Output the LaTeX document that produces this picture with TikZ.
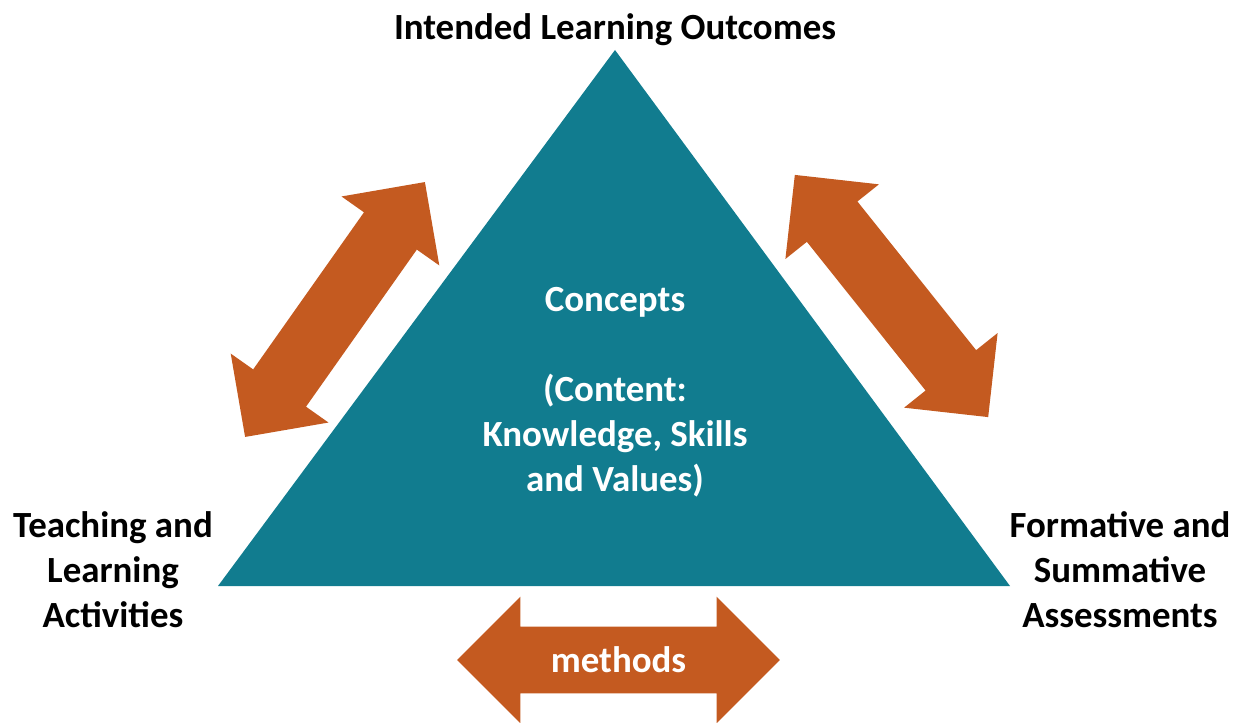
\documentclass[tikz,border=0pt]{standalone}
\usepackage{fontspec}
\setmainfont{Carlito}
\usetikzlibrary{shapes.arrows}

\definecolor{triteal}{RGB}{17,124,143}
\definecolor{arroworange}{RGB}{196,90,32}

\tikzset{
  bigarrow/.style={double arrow, fill=arroworange, draw=none, inner xsep=0pt,
    inner ysep=0.64cm, double arrow head extend=0.55cm},
}

\begin{document}
\begin{tikzpicture}[x=0.02cm, y=-0.02cm, font=\fontsize{21}{25.6}\selectfont\bfseries]
\useasboundingbox (0,0) rectangle (1244,723);

% the triangle
\coordinate (top) at (615,50);
\coordinate (bottomleft) at (218,586);
\coordinate (bottomright) at (1010,586);
\fill[triteal] (top) -- (bottomright) -- (bottomleft) -- cycle;

\node (ilo) at (615,30)
  {Intended Learning Outcomes};
\node[align=center] (tla) at (113,570)
  {Teaching and\\Learning\\Activities};
\node[align=center] (fsa) at (1120,570)
  {Formative and\\Summative\\Assessments};
\node[align=center, text=white] (concepts) at (615,392)
  {Concepts\\[\baselineskip](Content:\\Knowledge, Skills\\and Values)};

% the arrows
\node[bigarrow, minimum height=6.24cm, rotate=54.8] (leftarrow) at (335,309.5) {};
\node[bigarrow, minimum height=6.2cm, rotate=-51.4] (rightarrow) at (891.5,296) {};
\node[bigarrow, minimum height=6.46cm, inner ysep=0.66cm, double arrow head extend=0.6cm,
  label={[text=white]center:methods}] (methods) at (618.5,660) {};

\end{tikzpicture}
\end{document}
